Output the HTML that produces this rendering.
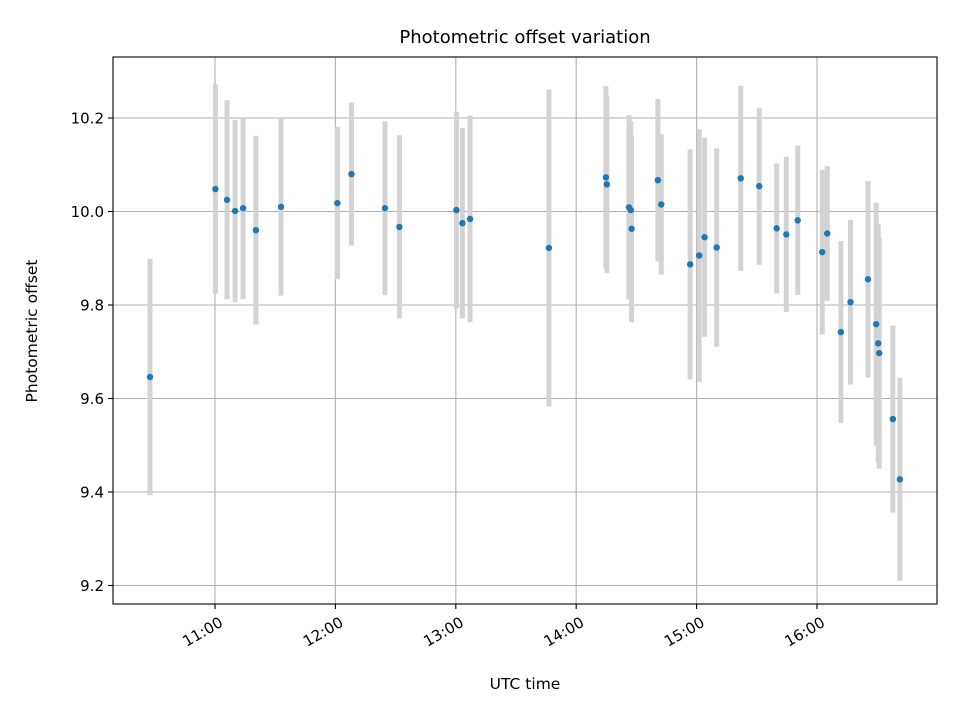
<!DOCTYPE html>
<html><head><meta charset="utf-8">
<style>
html,body{margin:0;padding:0;background:#fff;}
svg text{font-family:"DejaVu Sans","Liberation Sans",sans-serif;fill:#000;}
</style></head>
<body>
<svg id="chart" width="960" height="720" viewBox="0 0 960 720" xmlns="http://www.w3.org/2000/svg">
<rect width="960" height="720" fill="#fff"/>
<text x="525" y="43" font-size="18" text-anchor="middle">Photometric offset variation</text>
<text x="525" y="689" font-size="15.5" text-anchor="middle">UTC time</text>
<text x="0" y="0" font-size="15.5" text-anchor="middle" transform="translate(37,331) rotate(-90)">Photometric offset</text>
<g id="grid"></g>
<g id="errs"></g>
<g id="pts"></g>
<g id="axes"></g>
</svg>
<script>
// times in minutes since midnight (UTC)
const times = [627.6,660.2,666.0,670.0,674.0,680.4,692.9,721.0,728.0,744.7,751.9,780.3,783.3,787.1,826.4,854.8,855.3,866.3,867.2,867.6,880.7,882.4,896.8,901.3,904.0,910.0,922.0,931.2,939.9,944.7,950.4,962.6,965.1,971.9,976.7,985.4,989.5,990.5,991.0,997.8,1001.3];
const offsets = [9.646,10.048,10.025,10.001,10.007,9.960,10.010,10.018,10.080,10.007,9.967,10.003,9.975,9.984,9.922,10.073,10.058,10.009,10.003,9.963,10.067,10.015,9.887,9.906,9.945,9.923,10.071,10.054,9.964,9.951,9.981,9.913,9.953,9.742,9.806,9.855,9.759,9.718,9.697,9.556,9.427];
const errors = [0.253,0.224,0.213,0.195,0.195,0.202,0.19,0.163,0.153,0.186,0.196,0.21,0.204,0.221,0.339,0.195,0.19,0.197,0.19,0.2,0.174,0.15,0.246,0.27,0.213,0.212,0.198,0.168,0.139,0.166,0.16,0.176,0.144,0.195,0.176,0.21,0.26,0.255,0.247,0.2,0.217];
const yTicks = [9.2,9.4,9.6,9.8,10.0,10.2];
const yTickLabels = ["9.2","9.4","9.6","9.8","10.0","10.2"];
const xTicks = [660,720,780,840,900,960];
const xTickLabels = ["11:00","12:00","13:00","14:00","15:00","16:00"];

const L=113,R=937,T=57,B=604;
function xs(m){return 215+(m-660)*120.4/60;}
function ys(v){return 211.5-(v-10)*467.5;}
const NS="http://www.w3.org/2000/svg";
function mk(tag,attrs,parent){const e=document.createElementNS(NS,tag);for(const k in attrs)e.setAttribute(k,attrs[k]);parent.appendChild(e);return e;}
const grid=document.getElementById('grid'),errs=document.getElementById('errs'),pts=document.getElementById('pts'),axes=document.getElementById('axes');

yTicks.forEach((v,i)=>{
  const y=ys(v);
  const g=mk('line',{x1:L,x2:R,y1:y,y2:y,stroke:'#b0b0b0','stroke-width':1.1},grid);
  
  
  const t=mk('line',{x1:L-5,x2:L,y1:y,y2:y,stroke:'#000','stroke-width':1.1},axes);
  
  
  const lb=mk('text',{x:L-9,y:y+5.5,'font-size':'15','text-anchor':'end'},axes);
  lb.textContent=yTickLabels[i];
  
  
});
xTicks.forEach((m,i)=>{
  const x=xs(m);
  const g=mk('line',{x1:x,x2:x,y1:T,y2:B,stroke:'#b0b0b0','stroke-width':1.1},grid);
  
  
  const t=mk('line',{x1:x,x2:x,y1:B,y2:B+5,stroke:'#000','stroke-width':1.1},axes);
  
  
  const lb=mk('text',{x:0,y:12,'font-size':'15','text-anchor':'end',transform:'translate('+(x+3)+','+(B+11)+') rotate(-30)'},axes);
  lb.textContent=xTickLabels[i];
  
  
});
times.forEach((m,i)=>{
  const x=xs(m),v=offsets[i],e=errors[i];
  const b=mk('line',{x1:x,x2:x,y1:ys(v+e),y2:ys(v-e),stroke:'#d3d3d3','stroke-width':5},errs);
  
  
  const c=mk('circle',{cx:x,cy:ys(v),r:3.2,fill:'#1f77b4'},pts);
  
  
});
const fr=mk('rect',{x:L,y:T,width:R-L,height:B-T,fill:'none',stroke:'#000','stroke-width':1.1},axes);


</script>
</body></html>
